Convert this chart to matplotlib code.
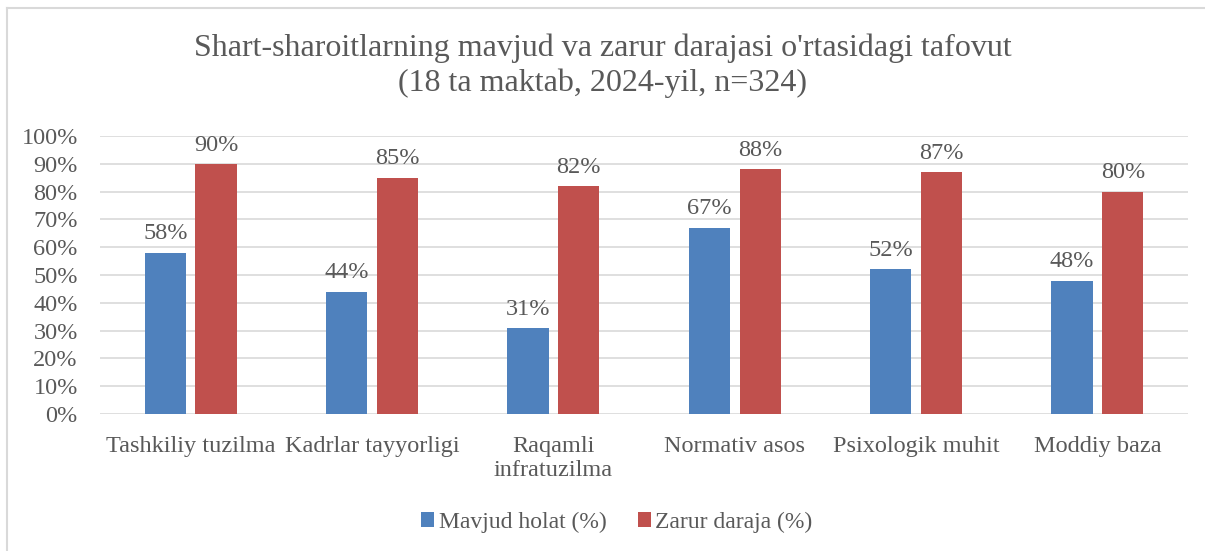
import numpy as np
import matplotlib.pyplot as plt
from matplotlib.lines import Line2D

# data
categories = ['Tashkiliy tuzilma', 'Kadrlar tayyorligi', 'Raqamli\ninfratuzilma',
              'Normativ asos', 'Psixologik muhit', 'Moddiy baza']
mavjud = [58, 44, 31, 67, 52, 48]
zarur = [90, 85, 82, 88, 87, 80]
yticks = list(range(0, 101, 10))

plt.rcParams['font.family'] = ['Liberation Serif', 'DejaVu Serif']
txt = '#595959'
blue = '#4F81BD'
red = '#C0504D'

fig = plt.figure(figsize=(12.05, 5.51), dpi=100)
ax = fig.add_axes([0.083, 0.2486, 0.903, 0.5045])

x = np.arange(len(categories))
w = 0.227
off = 0.14
b1 = ax.bar(x - off, mavjud, w, color=blue, label='Mavjud holat (%)', zorder=3)
b2 = ax.bar(x + off, zarur, w, color=red, label='Zarur daraja (%)', zorder=3)
for bars in (b1, b2):
    ax.bar_label(bars, labels=[f'{b.get_height():.0f}%' for b in bars],
                 padding=6, fontsize=17.5, color=txt)

ax.set_xlim(-0.5, len(categories) - 0.5)
ax.set_ylim(0, 100)
ax.set_yticks(yticks)
ax.set_yticklabels([f'{v}%' for v in yticks])
ax.set_xticks(x)
ax.set_xticklabels(categories, linespacing=1.2)
ax.tick_params(axis='both', length=0, labelsize=17.5, labelcolor=txt)
ax.tick_params(axis='x', pad=16)
ax.tick_params(axis='y', pad=16)
ax.grid(axis='y', color='#d9d9d9', lw=1.2, zorder=0)
for s in ax.spines.values():
    s.set_visible(False)

fig.text(0.5, 0.88, "Shart-sharoitlarning mavjud va zarur darajasi o'rtasidagi tafovut\n(18 ta maktab, 2024-yil, n=324)",
         ha='center', va='center', fontsize=23, color=txt, linespacing=1.25)

fig.legend(loc='center', bbox_to_anchor=(0.512, 0.052), ncol=2, frameon=False,
           fontsize=17, labelcolor=txt, handlelength=0.55, handleheight=0.55,
           handletextpad=0.2, columnspacing=1.3)

# outer chart frame (top and left edges visible)
fig.add_artist(Line2D([0.0058, 1.0], [0.985, 0.985], transform=fig.transFigure, color='#d9d9d9', lw=1.5))
fig.add_artist(Line2D([0.0058, 0.0058], [0.0, 0.985], transform=fig.transFigure, color='#d9d9d9', lw=1.5))

fig.savefig('out.png', dpi=100, facecolor='white')
